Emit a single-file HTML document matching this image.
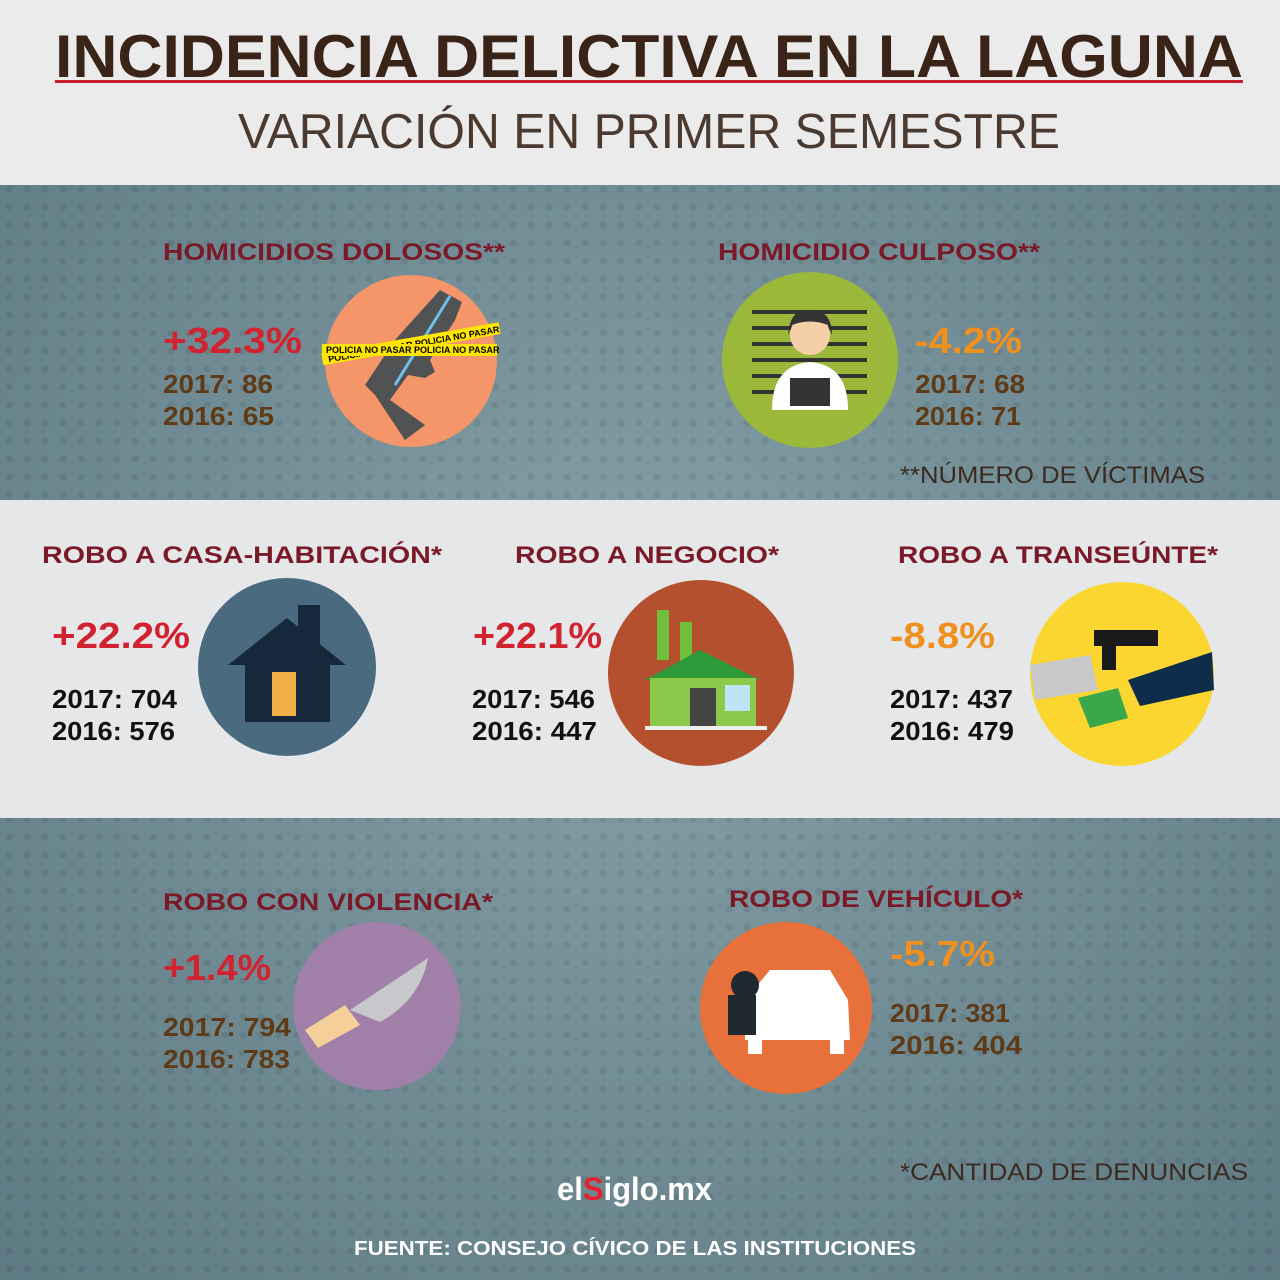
<!DOCTYPE html>
<html><head><meta charset="utf-8"><style>
html,body{margin:0;padding:0;width:1280px;height:1280px;overflow:hidden}
svg{display:block}
text{font-family:"Liberation Sans",sans-serif}
.h{font-weight:bold;font-size:24px;fill:#7a1a28}
.p{font-weight:bold;font-size:36px}
.n{font-weight:bold;font-size:26px;fill:#5e3a16}
.k{font-weight:bold;font-size:26px;fill:#111}
.r{fill:#d1232f}.o{fill:#f0901e}
</style></head><body>
<svg width="1280" height="1280" viewBox="0 0 1280 1280">
<defs>
<radialGradient id="bg" cx="50%" cy="50%" r="70%"><stop offset="0" stop-color="#86a0a7"/><stop offset="1" stop-color="#5e7a83"/></radialGradient>
<pattern id="dots" width="18" height="18" patternUnits="userSpaceOnUse"><circle cx="9" cy="9" r="3.5" fill="#000" opacity="0.08"/></pattern>
</defs>
<rect width="1280" height="1280" fill="url(#bg)"/>
<rect width="1280" height="1280" fill="url(#dots)"/>
<rect width="1280" height="185" fill="#ebebeb"/>
<rect y="500" width="1280" height="318" fill="#e6e7e9"/>
<text x="55" y="77" font-size="60" font-weight="bold" fill="#3a2418" textLength="1188" lengthAdjust="spacingAndGlyphs">INCIDENCIA DELICTIVA EN LA LAGUNA</text>
<rect x="55" y="80" width="1188" height="3" fill="#c8202c"/>
<text x="238" y="148" font-size="49" fill="#4a3a30" textLength="822" lengthAdjust="spacingAndGlyphs">VARIACIÓN EN PRIMER SEMESTRE</text>

<!-- top section -->
<text class="h" x="163" y="260" textLength="342" lengthAdjust="spacingAndGlyphs">HOMICIDIOS DOLOSOS**</text>
<text class="p r" x="163" y="353" textLength="139" lengthAdjust="spacingAndGlyphs">+32.3%</text>
<text class="n" x="163" y="393" textLength="110" lengthAdjust="spacingAndGlyphs">2017: 86</text>
<text class="n" x="163" y="425" textLength="111" lengthAdjust="spacingAndGlyphs">2016: 65</text>
<circle cx="411" cy="361" r="86" fill="#f4956a"/>
<path d="M440 290 L462 302 L455 320 L430 360 L435 372 L425 378 L408 375 L390 400 L425 425 L405 440 L375 395 L365 385 L395 340 Z" fill="#505254"/>
<path d="M450 296 L395 385" stroke="#6ec0e6" stroke-width="3"/>
<g transform="rotate(-10 410 350)"><rect x="322" y="338" width="180" height="12" fill="#ffe600"/><text x="328" y="348" font-size="9" font-weight="bold">POLICIA NO PASAR  POLICIA NO PASAR</text></g>
<rect x="322" y="344" width="175" height="12" fill="#ffe600"/><text x="326" y="353" font-size="9" font-weight="bold">POLICIA NO PASAR    POLICIA NO PASAR</text>

<text class="h" x="718" y="260" textLength="322" lengthAdjust="spacingAndGlyphs">HOMICIDIO CULPOSO**</text>
<circle cx="810" cy="360" r="88" fill="#9bb83a"/>
<g fill="#333"><rect x="752" y="310" width="115" height="4"/><rect x="752" y="326" width="115" height="4"/><rect x="752" y="342" width="115" height="4"/><rect x="752" y="358" width="115" height="4"/><rect x="752" y="374" width="115" height="4"/><rect x="752" y="390" width="115" height="4"/></g>
<path d="M772 410 Q772 365 810 362 Q848 365 848 410 Z" fill="#fff"/>
<circle cx="810" cy="335" r="20" fill="#f5cfa8"/><path d="M788 335 Q790 308 810 310 Q832 310 832 335 L828 325 Q810 318 792 325 Z" fill="#333"/>
<rect x="790" y="378" width="40" height="28" fill="#333"/>
<text class="p o" x="915" y="353" textLength="107" lengthAdjust="spacingAndGlyphs">-4.2%</text>
<text class="n" x="915" y="393" textLength="110" lengthAdjust="spacingAndGlyphs">2017: 68</text>
<text class="n" x="915" y="425" textLength="106" lengthAdjust="spacingAndGlyphs">2016: 71</text>
<text x="900" y="483" font-size="24" fill="#3a2a20" textLength="305" lengthAdjust="spacingAndGlyphs">**NÚMERO DE VÍCTIMAS</text>

<!-- middle -->
<text class="h" x="42" y="563" textLength="400" lengthAdjust="spacingAndGlyphs">ROBO A CASA-HABITACIÓN*</text>
<text class="p r" x="52" y="648" textLength="138" lengthAdjust="spacingAndGlyphs">+22.2%</text>
<text class="k" x="52" y="708" textLength="125" lengthAdjust="spacingAndGlyphs">2017: 704</text>
<text class="k" x="52" y="740" textLength="123" lengthAdjust="spacingAndGlyphs">2016: 576</text>
<circle cx="287" cy="667" r="89" fill="#4a6a80"/>
<path d="M228 665 L287 618 L346 665 L330 665 L330 722 L245 722 L245 665 Z" fill="#16293a"/>
<rect x="298" y="605" width="22" height="40" fill="#16293a"/>
<rect x="272" y="672" width="24" height="44" fill="#f3b04a"/>

<text class="h" x="515" y="563" textLength="264" lengthAdjust="spacingAndGlyphs">ROBO A NEGOCIO*</text>
<text class="p r" x="473" y="648" textLength="129" lengthAdjust="spacingAndGlyphs">+22.1%</text>
<text class="k" x="472" y="708" textLength="123" lengthAdjust="spacingAndGlyphs">2017: 546</text>
<text class="k" x="472" y="740" textLength="125" lengthAdjust="spacingAndGlyphs">2016: 447</text>
<circle cx="701" cy="673" r="93" fill="#b5502e"/>
<rect x="657" y="610" width="12" height="50" fill="#6fbf3a"/><rect x="680" y="622" width="12" height="40" fill="#6fbf3a"/>
<path d="M645 680 L700 650 L760 680 Z" fill="#2e9a3a"/>
<rect x="650" y="678" width="106" height="48" fill="#8cc84a"/>
<rect x="690" y="688" width="26" height="38" fill="#444"/>
<rect x="725" y="685" width="25" height="26" fill="#bfe4f5"/>
<rect x="645" y="726" width="122" height="4" fill="#eee"/>

<text class="h" x="898" y="563" textLength="320" lengthAdjust="spacingAndGlyphs">ROBO A TRANSEÚNTE*</text>
<text class="p o" x="890" y="648" textLength="105" lengthAdjust="spacingAndGlyphs">-8.8%</text>
<text class="k" x="890" y="708" textLength="123" lengthAdjust="spacingAndGlyphs">2017: 437</text>
<text class="k" x="890" y="740" textLength="124" lengthAdjust="spacingAndGlyphs">2016: 479</text>
<circle cx="1122" cy="674" r="92" fill="#fcd630"/>
<path d="M1030 665 L1090 655 L1098 690 L1035 700 Z" fill="#c8c8c8"/>
<rect x="1094" y="630" width="64" height="16" fill="#1a1a1a"/><rect x="1102" y="640" width="14" height="30" fill="#1a1a1a"/>
<path d="M1128 680 L1212 652 L1214 690 L1140 706 Z" fill="#0e2d4a"/>
<path d="M1078 698 L1118 688 L1128 718 L1090 728 Z" fill="#3aa84a"/>

<!-- bottom -->
<text class="h" x="163" y="910" textLength="330" lengthAdjust="spacingAndGlyphs">ROBO CON VIOLENCIA*</text>
<text class="p r" x="163" y="980" textLength="108" lengthAdjust="spacingAndGlyphs">+1.4%</text>
<text class="n" x="163" y="1036" textLength="128" lengthAdjust="spacingAndGlyphs">2017: 794</text>
<text class="n" x="163" y="1068" textLength="127" lengthAdjust="spacingAndGlyphs">2016: 783</text>
<circle cx="377" cy="1006" r="84" fill="#a080a8"/>
<path d="M350 1010 L428 958 Q420 1000 380 1022 Z" fill="#c8c8cc"/>
<path d="M305 1030 L345 1005 L360 1025 L318 1048 Z" fill="#f5cf9a"/>

<text class="h" x="729" y="907" textLength="294" lengthAdjust="spacingAndGlyphs">ROBO DE VEHÍCULO*</text>
<circle cx="786" cy="1008" r="86" fill="#e8703a"/>
<path d="M770 970 L830 970 L848 1000 L850 1040 L745 1040 L745 1000 Z" fill="#fff"/>
<rect x="748" y="1038" width="14" height="16" fill="#fff"/><rect x="830" y="1038" width="14" height="16" fill="#fff"/>
<circle cx="745" cy="985" r="14" fill="#1e2a30"/><rect x="728" y="995" width="28" height="40" fill="#1e2a30"/>
<text class="p o" x="890" y="966" textLength="105" lengthAdjust="spacingAndGlyphs">-5.7%</text>
<text class="n" x="890" y="1022" textLength="120" lengthAdjust="spacingAndGlyphs">2017: 381</text>
<text class="n" x="890" y="1054" textLength="132" lengthAdjust="spacingAndGlyphs">2016: 404</text>

<text x="900" y="1180" font-size="24" fill="#3a2a20" textLength="348" lengthAdjust="spacingAndGlyphs">*CANTIDAD DE DENUNCIAS</text>
<text x="557" y="1200" font-size="32" font-weight="bold" fill="#fff" textLength="155" lengthAdjust="spacingAndGlyphs">el<tspan fill="#e8202c">S</tspan>iglo.mx</text>
<text x="354" y="1255" font-size="20" font-weight="bold" fill="#fff" textLength="562" lengthAdjust="spacingAndGlyphs">FUENTE: CONSEJO CÍVICO DE LAS INSTITUCIONES</text>
</svg>
</body></html>
